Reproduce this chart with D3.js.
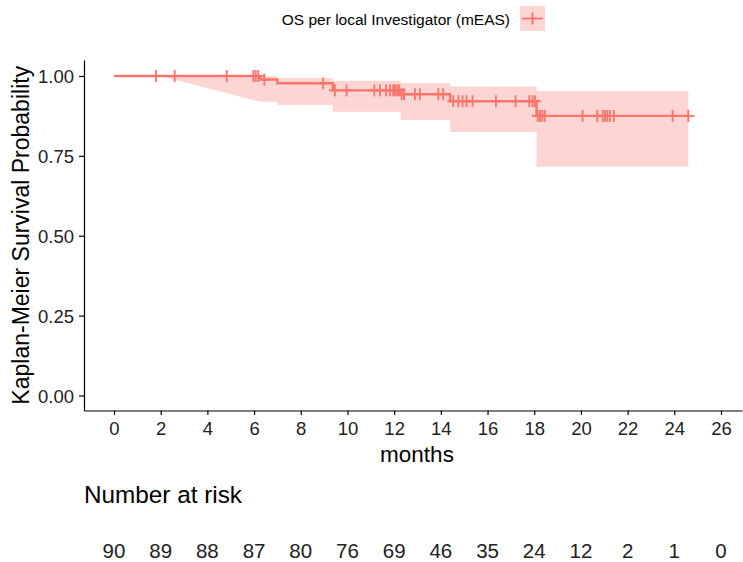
<!DOCTYPE html>
<html>
<head>
<meta charset="utf-8">
<script src="https://cdn.jsdelivr.net/npm/d3@7/dist/d3.min.js"></script>
<style>
  html, body { margin: 0; padding: 0; background: #fff; }
  svg { display: block; font-family: "Liberation Sans", Arial, sans-serif; }
</style>
</head>
<body>
<svg id="chart" width="743" height="562"></svg>
<script>
// ---- Data ----
const seriesName = "OS per local Investigator (mEAS)";
const stepTimes  = [0, 6.26, 7.0, 9.37, 12.28, 14.4, 18.1];
const stepSurv   = [1.0, 0.989, 0.977, 0.955, 0.943, 0.921, 0.875];
const lastTime   = 24.6;

const ciTimes = [0, 1.97, 6.26, 7.0, 9.37, 12.28, 14.4, 18.1, 24.6];
const ciLower = [1.0, 1.0, 0.919, 0.909, 0.888, 0.862, 0.825, 0.716, 0.716];
const ciUpper = [1.0, 1.0, 1.0, 0.994, 0.985, 0.977, 0.967, 0.953, 0.953];

const censorTimes = [1.8, 2.6, 4.83, 5.97, 6.07, 6.18, 6.44, 8.96, 9.46, 9.96,
  11.15, 11.39, 11.65, 11.82, 11.96, 12.03, 12.13, 12.22, 12.32, 12.42, 12.89,
  13.1, 13.89, 14.1, 14.53, 14.75, 14.93, 15.1, 15.36, 16.36, 17.2, 17.79,
  17.93, 18.03, 18.15, 18.25, 18.35, 18.45, 20.07, 20.7, 20.93, 21.03, 21.13,
  21.24, 21.41, 23.93, 24.6];

const xTicks = [0, 2, 4, 6, 8, 10, 12, 14, 16, 18, 20, 22, 24, 26];
const yTicks = [0, 0.25, 0.5, 0.75, 1.0];
const atRisk = [90, 89, 88, 87, 80, 76, 69, 46, 35, 24, 12, 2, 1, 0];

// ---- Layout ----
const color = "#F8766D";
const svg = d3.select("#chart");
const pLeft = 84, pRight = 742, pTop = 60, pBottom = 410.5;

const x = d3.scaleLinear().domain([-1.285, 26.9]).range([pLeft, pRight]);
const y = d3.scaleLinear().domain([-0.047, 1.05]).range([pBottom, pTop]);

function survAt(t) {
  let s = stepSurv[0];
  for (let i = 0; i < stepTimes.length; i++) if (t >= stepTimes[i]) s = stepSurv[i];
  return s;
}

// ribbon vertices: linear ramp for the first two segments, steps afterwards
const ribbon = [];
for (let i = 0; i < ciTimes.length; i++) {
  ribbon.push({t: ciTimes[i], lo: ciLower[i], hi: ciUpper[i]});
  if (i >= 2 && i < ciTimes.length - 1) {
    ribbon.push({t: ciTimes[i + 1], lo: ciLower[i], hi: ciUpper[i]});
  }
}
svg.append("path")
  .datum(ribbon)
  .attr("fill", color).attr("fill-opacity", 0.3)
  .attr("d", d3.area().x(d => x(d.t)).y0(d => y(d.lo)).y1(d => y(d.hi)).curve(d3.curveLinear));

// survival step line
const linePts = stepTimes.map((t, i) => ({t, s: stepSurv[i]}));
linePts.push({t: lastTime, s: stepSurv[stepSurv.length - 1]});
svg.append("path")
  .datum(linePts)
  .attr("fill", "none").attr("stroke", color).attr("stroke-width", 2.4)
  .attr("d", d3.line().x(d => x(d.t)).y(d => y(d.s)).curve(d3.curveStepAfter));

// censor marks
const cs = 6;
const cg = svg.append("g").attr("stroke", color).attr("stroke-width", 1.9);
censorTimes.forEach(t => {
  const cx = x(t), cy = y(survAt(t));
  cg.append("line").attr("x1", cx - cs).attr("x2", cx + cs).attr("y1", cy).attr("y2", cy);
  cg.append("line").attr("x1", cx).attr("x2", cx).attr("y1", cy - cs).attr("y2", cy + cs);
});

// axes
const xAxis = svg.append("g").attr("transform", `translate(0,${pBottom})`)
  .call(d3.axisBottom(x).tickValues(xTicks).tickSize(4.5).tickPadding(5).tickSizeOuter(0).tickFormat(d3.format("d")));
const yAxis = svg.append("g").attr("transform", `translate(${pLeft},0)`)
  .call(d3.axisLeft(y).tickValues(yTicks).tickSize(5).tickPadding(5).tickSizeOuter(0).tickFormat(d3.format(".2f")));
[xAxis, yAxis].forEach(a => {
  a.select(".domain").attr("stroke", "#000").attr("stroke-width", 1.2);
  a.selectAll(".tick line").attr("stroke", "#000").attr("stroke-width", 1.2);
  a.selectAll(".tick text").attr("fill", "#222").style("font-size", "18.5px")
    .style("font-family", "'Liberation Sans', Arial, sans-serif");
});
xAxis.selectAll(".tick text").attr("dy", null).attr("y", 24.5);
yAxis.selectAll(".tick text").attr("dy", "0.36em");

// axis titles
svg.append("text").attr("x", 417).attr("y", 461.5).attr("text-anchor", "middle")
  .style("font-size", "22.5px").attr("fill", "#000").text("months");
svg.append("text").attr("transform", `translate(29,${(pTop + pBottom) / 2}) rotate(-90)`)
  .attr("text-anchor", "middle").style("font-size", "23px").attr("fill", "#000")
  .text("Kaplan-Meier Survival Probability");

// legend
svg.append("text").attr("x", 510).attr("y", 25).attr("text-anchor", "end")
  .style("font-size", "15.5px").attr("fill", "#000").text(seriesName);
svg.append("rect").attr("x", 520).attr("y", 6).attr("width", 25).attr("height", 25)
  .attr("fill", color).attr("fill-opacity", 0.3);
const lg = svg.append("g").attr("stroke", color).attr("stroke-width", 1.9);
lg.append("line").attr("x1", 522).attr("x2", 543).attr("y1", 18.5).attr("y2", 18.5);
lg.append("line").attr("x1", 532.5).attr("x2", 532.5).attr("y1", 12.5).attr("y2", 24.5);

// number at risk
svg.append("text").attr("x", 84).attr("y", 503).style("font-size", "24.3px")
  .attr("fill", "#000").text("Number at risk");
svg.append("g").selectAll("text").data(atRisk).join("text")
  .attr("x", (d, i) => x(xTicks[i])).attr("y", 558).attr("text-anchor", "middle")
  .style("font-size", "20.5px").attr("fill", "#222").text(d => d);
</script>
</body>
</html>
